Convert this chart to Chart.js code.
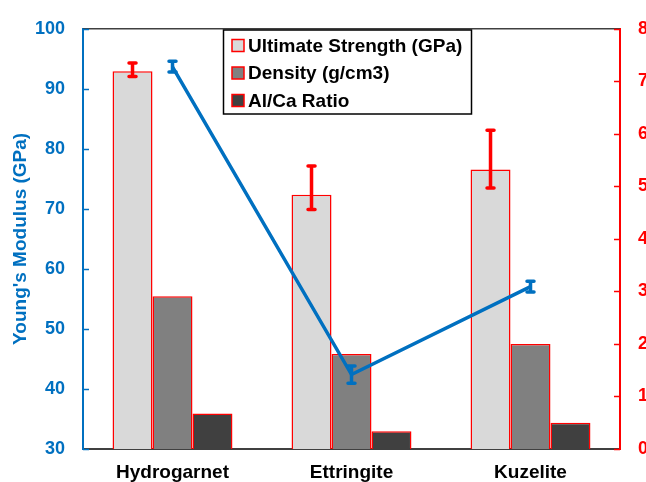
<!DOCTYPE html>
<html lang="en">
<head>
<meta charset="utf-8">
<title>Hydrogarnet / Ettringite / Kuzelite</title>
<script src="https://cdn.jsdelivr.net/npm/chart.js@4.4.1/dist/chart.umd.min.js"></script>
<style>
  html, body { margin: 0; padding: 0; background: #fff; }
  .chart-container { width: 646px; height: 482px; }
</style>
</head>
<body>
<div class="chart-container">
  <canvas id="bar-chart" width="646" height="482"></canvas>
</div>

<script>
/* Data */
const categories = ['Hydrogarnet', 'Ettringite', 'Kuzelite'];

const strength = [7.19, 4.84, 5.32];        // Ultimate Strength (GPa), right axis
const strengthLow = [7.09, 4.56, 4.97];
const strengthHigh = [7.35, 5.39, 6.07];

const density = [2.91, 1.81, 2.00];         // g/cm3, right axis
const alCaRatio = [0.675, 0.34, 0.50];      // right axis

const modulus = [93.65, 42.4, 57.05];       // Young's Modulus (GPa), left axis
const modulusLow = [92.8, 40.96, 56.16];
const modulusHigh = [94.58, 43.84, 57.95];

const BLUE = '#0070C0';
const RED = '#FF0000';
const FONT = "'Liberation Sans', Arial, sans-serif";

/* Error bars, inward ticks, frame and legend */
function drawErrorBar(ctx, x, yLow, yHigh, color) {
  ctx.save();
  ctx.strokeStyle = color;
  ctx.lineCap = 'round';
  ctx.lineWidth = 3.5;
  ctx.beginPath();
  ctx.moveTo(x, yLow);
  ctx.lineTo(x, yHigh);
  ctx.moveTo(x - 3.5, yLow);
  ctx.lineTo(x + 3.5, yLow);
  ctx.moveTo(x - 3.5, yHigh);
  ctx.lineTo(x + 3.5, yHigh);
  ctx.stroke();
  ctx.restore();
}

const extrasPlugin = {
  id: 'extras',
  afterDatasetsDraw(chart) {
    const ctx = chart.ctx;
    const area = chart.chartArea;
    const y = chart.scales.y;
    const y2 = chart.scales.y2;

    // strength error bars
    chart.getDatasetMeta(0).data.forEach((bar, i) => {
      drawErrorBar(ctx, bar.x, y2.getPixelForValue(strengthLow[i]),
        y2.getPixelForValue(strengthHigh[i]), RED);
    });
    // modulus error bars
    chart.getDatasetMeta(3).data.forEach((pt, i) => {
      drawErrorBar(ctx, pt.x, y.getPixelForValue(modulusLow[i]),
        y.getPixelForValue(modulusHigh[i]), BLUE);
    });

    // frame top line
    ctx.save();
    ctx.strokeStyle = '#404040';
    ctx.lineWidth = 1.5;
    ctx.beginPath();
    ctx.moveTo(area.left, area.top);
    ctx.lineTo(area.right, area.top);
    ctx.stroke();

    // inward tick marks
    ctx.lineWidth = 1.5;
    ctx.strokeStyle = BLUE;
    y.ticks.forEach(t => {
      const p = Math.round(y.getPixelForValue(t.value)) + 0.5;
      ctx.beginPath();
      ctx.moveTo(area.left, p);
      ctx.lineTo(area.left + 6, p);
      ctx.stroke();
    });
    ctx.strokeStyle = RED;
    y2.ticks.forEach(t => {
      const p = Math.round(y2.getPixelForValue(t.value)) + 0.5;
      ctx.beginPath();
      ctx.moveTo(area.right, p);
      ctx.lineTo(area.right - 6, p);
      ctx.stroke();
    });

    // legend box
    const bx = 223.5, by = 30, bw = 248, bh = 84;
    ctx.fillStyle = '#fff';
    ctx.fillRect(bx, by, bw, bh);
    ctx.strokeStyle = '#000';
    ctx.lineWidth = 1.5;
    ctx.strokeRect(bx, by, bw, bh);
    ctx.font = 'bold 19px ' + FONT;
    ctx.textBaseline = 'middle';
    ctx.textAlign = 'left';
    [0, 1, 2].forEach((d, i) => {
      const ds = chart.data.datasets[d];
      const cy = by + 15.5 + i * 27.5;
      ctx.fillStyle = ds.backgroundColor;
      ctx.fillRect(232, cy - 6, 12, 12);
      ctx.strokeStyle = RED;
      ctx.lineWidth = 1.5;
      ctx.strokeRect(232, cy - 6, 12, 12);
      ctx.fillStyle = '#000';
      ctx.fillText(ds.label, 248, cy + 1);
    });
    ctx.restore();
  }
};

const barStyle = {
  type: 'bar',
  yAxisID: 'y2',
  borderColor: RED,
  borderWidth: 1.5,
  categoryPercentage: 0.67,
  barPercentage: 1.0,
  order: 2
};

new Chart(document.getElementById('bar-chart'), {
  type: 'bar',
  data: {
    labels: categories,
    datasets: [
      Object.assign({ label: 'Ultimate Strength (GPa)', data: strength, backgroundColor: '#D9D9D9' }, barStyle),
      Object.assign({ label: 'Density (g/cm3)', data: density, backgroundColor: '#808080' }, barStyle),
      Object.assign({ label: 'Al/Ca Ratio', data: alCaRatio, backgroundColor: '#404040' }, barStyle),
      {
        type: 'line',
        label: "Young's Modulus (GPa)",
        data: modulus,
        yAxisID: 'y',
        borderColor: BLUE,
        borderWidth: 3.5,
        pointRadius: 0,
        tension: 0,
        order: 1
      }
    ]
  },
  options: {
    responsive: false,
    maintainAspectRatio: false,
    animation: false,
    layout: { padding: { top: 19, left: 0, right: 0, bottom: 0 } },
    plugins: {
      legend: { display: false },
      tooltip: { enabled: false }
    },
    scales: {
      x: {
        offset: true,
        grid: { display: false, drawTicks: false },
        border: { color: '#404040', width: 2 },
        ticks: {
          color: '#000',
          padding: 12,
          maxRotation: 0,
          autoSkip: false,
          font: { family: FONT, size: 19, weight: 'bold' }
        },
        afterFit(scale) { scale.height = 33; }
      },
      y: {
        position: 'left',
        min: 30,
        max: 100,
        grid: { display: false, drawTicks: false },
        border: { color: BLUE, width: 2 },
        ticks: {
          stepSize: 10,
          color: BLUE,
          padding: 18,
          font: { family: FONT, size: 18, weight: 'bold' }
        },
        title: {
          display: true,
          text: "Young's Modulus (GPa)",
          color: BLUE,
          padding: { top: 9, bottom: 0 },
          font: { family: FONT, size: 19, weight: 'bold' }
        },
        afterFit(scale) { scale.width = 83; }
      },
      y2: {
        position: 'right',
        min: 0,
        max: 8,
        grid: { display: false, drawTicks: false },
        border: { color: RED, width: 2 },
        ticks: {
          stepSize: 1,
          color: RED,
          padding: 18,
          font: { family: FONT, size: 18, weight: 'bold' }
        },
        afterFit(scale) { scale.width = 26; }
      }
    }
  },
  plugins: [extrasPlugin]
});
</script>
</body>
</html>
